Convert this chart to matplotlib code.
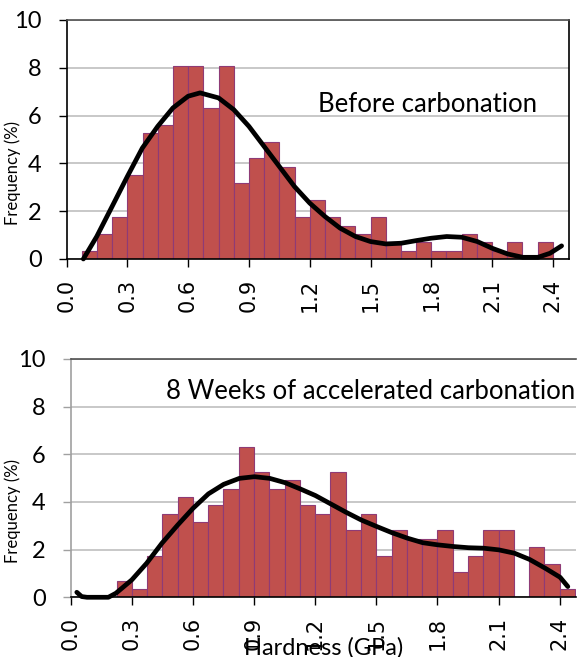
import numpy as np
import matplotlib
matplotlib.use("Agg")
from matplotlib import pyplot as plt

# Hardness histograms, frequency in % per 0.075 GPa bin
bin_width = 0.075
before_first_edge = 0.075
before_freq = [0.35, 1.05, 1.75, 3.51, 5.26, 5.61, 8.07, 8.07, 6.32, 8.07,
               3.16, 4.21, 4.91, 3.86, 1.75, 2.46, 1.75, 1.40, 1.05, 1.75,
               0.70, 0.35, 0.70, 0.35, 0.35, 1.05, 0.70, 0.35, 0.70, 0.0, 0.70]

after_first_edge = 0.225
after_freq = [0.70, 0.35, 1.75, 3.51, 4.21, 3.16, 3.86, 4.56, 6.32, 5.26,
              4.56, 4.91, 3.86, 3.51, 5.26, 2.81, 3.51, 1.75, 2.81, 2.46,
              2.46, 2.81, 1.05, 1.75, 2.81, 2.81, 0.0, 2.10, 1.40, 0.35]

# fitted distribution curves
before_fit_x = [0.083, 0.149, 0.225, 0.30, 0.374, 0.45, 0.525, 0.60, 0.659, 0.75,
                0.825, 0.90, 0.975, 1.05, 1.125, 1.20, 1.275, 1.35, 1.426, 1.50,
                1.576, 1.652, 1.726, 1.80, 1.876, 1.95, 2.027, 2.10, 2.177, 2.252,
                2.326, 2.386, 2.443]
before_fit_y = [0.0, 0.94, 2.2, 3.45, 4.64, 5.55, 6.32, 6.81, 6.95, 6.74,
                6.25, 5.55, 4.71, 3.87, 3.03, 2.34, 1.78, 1.29, 0.94, 0.73,
                0.63, 0.66, 0.77, 0.87, 0.94, 0.91, 0.73, 0.45, 0.21, 0.07,
                0.07, 0.24, 0.55]

after_fit_x = [0.03, 0.054, 0.08, 0.13, 0.185, 0.222, 0.30, 0.373, 0.448, 0.525,
               0.60, 0.676, 0.751, 0.828, 0.902, 0.977, 1.052, 1.126, 1.201, 1.276,
               1.351, 1.427, 1.502, 1.577, 1.653, 1.728, 1.802, 1.879, 1.952, 2.026,
               2.101, 2.178, 2.252, 2.329, 2.402, 2.44]
after_fit_y = [0.21, 0.03, 0.0, 0.0, 0.0, 0.17, 0.73, 1.43, 2.27, 3.03,
               3.73, 4.34, 4.74, 4.99, 5.06, 4.99, 4.81, 4.55, 4.27, 3.92,
               3.57, 3.24, 2.97, 2.71, 2.48, 2.29, 2.2, 2.13, 2.08, 2.06,
               1.99, 1.85, 1.59, 1.22, 0.84, 0.45]

x_ticks = [0.0, 0.3, 0.6, 0.9, 1.2, 1.5, 1.8, 2.1, 2.4]
y_ticks = [0, 2, 4, 6, 8, 10]

BAR_FACE = "#C0504D"
BAR_EDGE = "#8E3B76"
GRID = "#BFBFBF"
TXT_FONT = "Lato"

fig = plt.figure(figsize=(5.77, 6.57), dpi=100)
ax_top = fig.add_axes([0.1153, 0.6058, 0.8710, 0.3638])
ax_bot = fig.add_axes([0.1225, 0.0909, 0.8757, 0.3627])


def draw_panel(ax, first_edge, freq, fit_x, fit_y, label, label_xy, left_color):
    lefts = first_edge + bin_width * np.arange(len(freq))
    ax.bar(lefts, freq, width=bin_width, align="edge", color=BAR_FACE,
           edgecolor=BAR_EDGE, linewidth=0.8, zorder=2)
    ax.plot(fit_x, fit_y, color="black", linewidth=3.4, solid_capstyle="round",
            zorder=3, clip_on=False)

    ax.set_xlim(0, 2.48)
    ax.set_ylim(0, 10)
    ax.set_xticks(x_ticks)
    ax.set_xticklabels([f"{t:.1f}" for t in x_ticks], rotation=90,
                       fontsize=15, family="DejaVu Sans")
    ax.set_yticks(y_ticks)
    ax.set_yticklabels([str(t) for t in y_ticks], fontsize=17, family=TXT_FONT)
    ax.tick_params(axis="x", direction="out", length=6, width=1, color="black", pad=8)
    ax.tick_params(axis="y", direction="out", length=6, width=1, color=left_color, pad=12)
    ax.yaxis.grid(True, color=GRID, linewidth=1.2, zorder=0)
    ax.set_axisbelow(True)

    ax.spines["left"].set_color(left_color)
    ax.spines["bottom"].set_color("black")
    ax.spines["top"].set_color("#505050")
    ax.spines["right"].set_color("black")
    for s in ax.spines.values():
        s.set_linewidth(1.2)

    ax.set_ylabel("Frequency (%)", fontsize=12, family=TXT_FONT)
    ax.text(label_xy[0], label_xy[1], label, transform=ax.transAxes,
            fontsize=18.5, family=TXT_FONT, ha="left", va="center")


draw_panel(ax_top, before_first_edge, before_freq, before_fit_x, before_fit_y,
           "Before carbonation", (0.5, 0.648), "black")
draw_panel(ax_bot, after_first_edge, after_freq, after_fit_x, after_fit_y,
           "8 Weeks of accelerated carbonation", (0.189, 0.862), "#A0A0A0")
ax_bot.spines["right"].set_visible(False)
ax_top.yaxis.set_label_coords(-0.09, 0.36)
ax_bot.yaxis.set_label_coords(-0.098, 0.36)

ax_bot.set_xlabel("Hardness (GPa)", fontsize=17, family=TXT_FONT)
ax_bot.xaxis.set_label_coords(0.5, -0.165)

fig.savefig("out.png", dpi=100)
